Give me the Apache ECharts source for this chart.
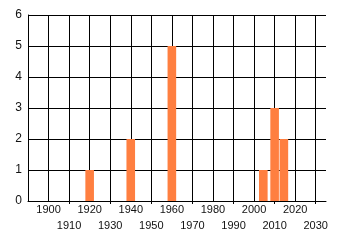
<!DOCTYPE html>
<html>
<head>
<meta charset="utf-8">
<script src="https://cdn.jsdelivr.net/npm/echarts@6/dist/echarts.min.js"></script>
<style>
html,body{margin:0;padding:0;background:#fff;}
#c{width:340px;height:245px;}
</style>
</head>
<body>
<div id="c"></div>
<script>
const years = [1920, 1940, 1960, 2004.5, 2010, 2014.5];
const counts = [1, 2, 5, 1, 3, 2];
const xUpperRowLabels = [1900, 1920, 1940, 1960, 1980, 2000, 2020];
const xLowerRowLabels = [1910, 1930, 1950, 1970, 1990, 2010, 2030];
const yTicks = [0, 1, 2, 3, 4, 5, 6];

const chart = echarts.init(document.getElementById('c'), null, {renderer: 'canvas'});
const font = 'Liberation Sans, Arial, sans-serif';
const labelBase = {color: '#111', fontFamily: font, fontSize: 11, lineHeight: 16};
chart.setOption({
  animation: false,
  grid: {left: 28, right: 14, top: 15, bottom: 44, containLabel: false},
  xAxis: [{
    type: 'value',
    min: 1890,
    max: 2035,
    interval: 10,
    position: 'bottom',
    axisLine: {show: true, lineStyle: {color: '#000', width: 1}},
    axisTick: {show: false},
    splitLine: {show: true, showMaxLine: false, lineStyle: {color: '#000', width: 1}},
    axisLabel: Object.assign({
      margin: 1,
      showMinLabel: true, showMaxLabel: true,
      formatter: function (v) { return xUpperRowLabels.indexOf(v) >= 0 ? String(v) : ''; }
    }, labelBase)
  }, {
    type: 'value',
    min: 1890,
    max: 2035,
    interval: 10,
    position: 'bottom',
    axisLine: {show: false},
    axisTick: {show: true, customValues: xLowerRowLabels, length: 3, lineStyle: {color: '#000'}},
    splitLine: {show: false},
    axisLabel: Object.assign({
      margin: 17,
      customValues: xLowerRowLabels,
      showMinLabel: true, showMaxLabel: true,
      formatter: function (v) { return String(v); }
    }, labelBase)
  }],
  yAxis: {
    type: 'value',
    min: 0,
    max: 6,
    interval: 1,
    axisLine: {show: true, lineStyle: {color: '#000', width: 1}},
    axisTick: {show: false},
    splitLine: {show: true, lineStyle: {color: '#000', width: 1}},
    axisLabel: {
      margin: 6,
      color: '#111',
      fontFamily: font,
      fontSize: 12,
      formatter: function (v) { return yTicks.indexOf(v) >= 0 ? String(v) : ''; }
    }
  },
  series: [{
    type: 'bar',
    xAxisIndex: 0,
    barWidth: 8.6,
    itemStyle: {color: '#ff7f40'},
    data: years.map((y, i) => [y, counts[i]])
  }]
});
</script>
</body>
</html>
